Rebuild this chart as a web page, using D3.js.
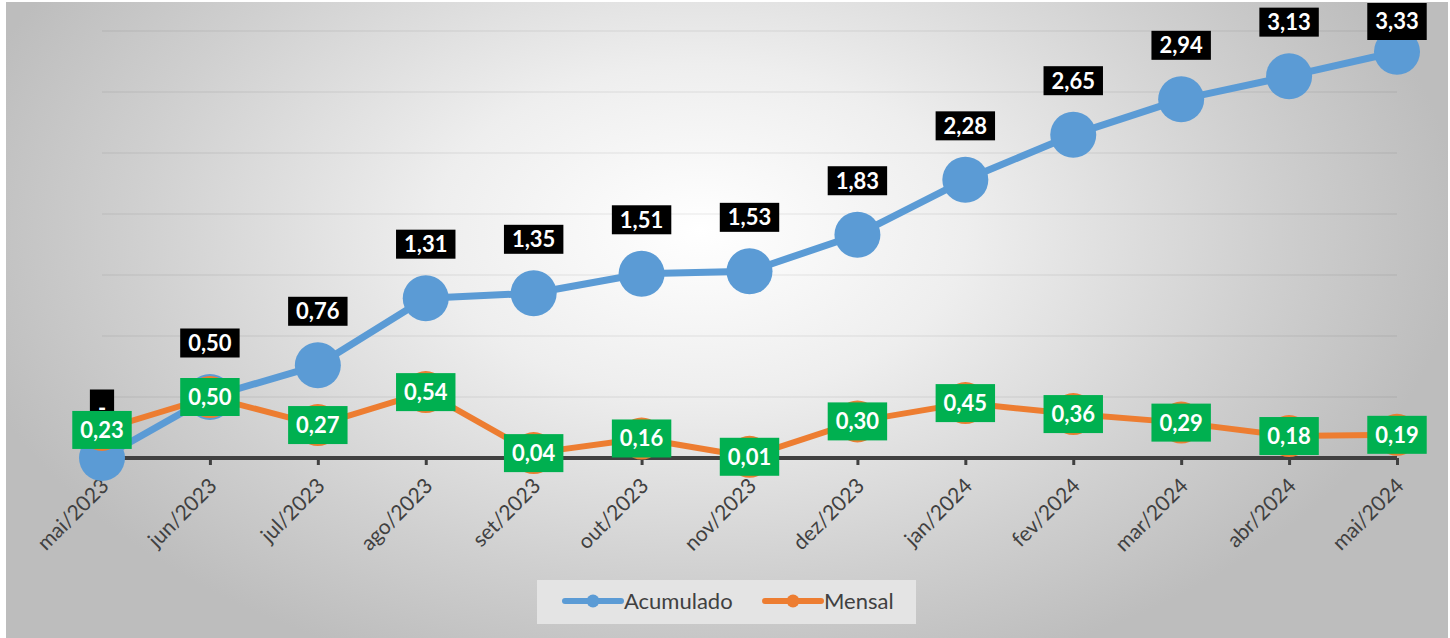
<!DOCTYPE html>
<html><head><meta charset="utf-8">
<script src="https://cdn.jsdelivr.net/npm/d3@7"></script>
<style>html,body{margin:0;padding:0;background:#fff;}svg{display:block;}</style>
</head><body>
<svg id="chart" width="1450" height="638"></svg>
<script>
const categories = ["mai/2023","jun/2023","jul/2023","ago/2023","set/2023","out/2023","nov/2023","dez/2023","jan/2024","fev/2024","mar/2024","abr/2024","mai/2024"];
const acumulado = [0, 0.50, 0.76, 1.31, 1.35, 1.51, 1.53, 1.83, 2.28, 2.65, 2.94, 3.13, 3.33];
const mensal = [0.23, 0.50, 0.27, 0.54, 0.04, 0.16, 0.01, 0.30, 0.45, 0.36, 0.29, 0.18, 0.19];
const gridTicks = [0.5, 1.0, 1.5, 2.0, 2.5, 3.0, 3.5];
const seriesNames = ["Acumulado", "Mensal"];

const svg = d3.select("#chart");
const defs = svg.append("defs");
const grad = defs.append("radialGradient").attr("id","bg")
  .attr("gradientUnits","userSpaceOnUse")
  .attr("cx",700).attr("cy",230).attr("r",760)
  .attr("gradientTransform","translate(700,230) scale(1,0.62) translate(-700,-230)");
[[0,"#ffffff"],[0.35,"#eeeeee"],[0.75,"#cfcfcf"],[1,"#bdbdbd"]].forEach(s=>grad.append("stop").attr("offset",s[0]).attr("stop-color",s[1]));

svg.append("rect").attr("x",6).attr("y",2).attr("width",1442).attr("height",640).attr("fill","url(#bg)");

const x = d3.scalePoint().domain(categories).range([102,1397]);
const y = d3.scaleLinear().domain([0,3.5]).range([458,31]);

// gridlines
svg.append("g").selectAll("line").data(gridTicks).join("line")
  .attr("x1",x(categories[0])).attr("x2",x(categories[categories.length-1]))
  .attr("y1",d=>y(d)).attr("y2",d=>y(d))
  .attr("stroke","rgba(0,0,0,0.045)").attr("stroke-width",2);

// x axis
const axis = d3.axisBottom(x).tickSize(7).tickFormat("");
const ax = svg.append("g").attr("transform",`translate(0,${y(0)})`).call(axis);
ax.select(".domain").attr("d",`M${x(categories[0])},0H${x(categories[categories.length-1])}`).attr("stroke","#404040").attr("stroke-width",4);
ax.selectAll(".tick line").attr("stroke","#404040").attr("stroke-width",3);

svg.append("g").selectAll("text").data(categories).join("text")
  .attr("transform",d=>`translate(${x(d)+3},${y(0)+24}) rotate(-45)`)
  .attr("text-anchor","end").attr("dy","0.35em")
  .attr("font-family","Lato, 'Open Sans', sans-serif").attr("font-size",21).attr("fill","#404040")
  .text(d=>d);

const lineGen = d3.line().x((d,i)=>x(categories[i])).y(d=>y(d));

function drawSeries(vals,color,width,r){
  svg.append("path").datum(vals).attr("d",lineGen).attr("fill","none")
    .attr("stroke",color).attr("stroke-width",width).attr("stroke-linejoin","round").attr("stroke-linecap","round");
  svg.append("g").selectAll("circle").data(vals).join("circle")
    .attr("cx",(d,i)=>x(categories[i])).attr("cy",d=>y(d)).attr("r",r).attr("fill",color);
}
drawSeries(acumulado,"#5b9bd5",7,23);
drawSeries(mensal,"#ed7d31",6,21);

// accounting-style format: zero shown as a dash
const fmt = v => v===0 ? "-" : d3.format(".2f")(v).replace(".",",");

function drawLabels(vals,fill,offset,h){
  const g = svg.append("g");
  vals.forEach((v,i)=>{
    let hh = v===0 ? 37 : h;
    let top = y(v)+offset-h/2;
    if(top<3){ top=3; hh=37; }
    const cy = top+hh/2;
    const lg = g.append("g");
    const t = lg.append("text").attr("x",x(categories[i])).attr("y",cy).attr("dy","0.36em")
      .attr("text-anchor","middle").attr("font-family","Lato, sans-serif").attr("font-weight",700)
      .attr("font-size",22).attr("fill","#ffffff").text(fmt(v));
    const w = Math.max(24, t.node().getComputedTextLength()+16);
    lg.insert("rect","text").attr("x",x(categories[i])-w/2).attr("y",top).attr("width",w).attr("height",hh).attr("fill",fill);
  });
}
drawLabels(acumulado,"#000000",-54,29);
drawLabels(mensal,"#00b050",0,38);

// legend
const lg = svg.append("g");
lg.append("rect").attr("x",537).attr("y",580).attr("width",379).attr("height",44).attr("fill","#e4e4e4");
const legendItems = [{name:seriesNames[0],color:"#5b9bd5",x0:565},{name:seriesNames[1],color:"#ed7d31",x0:765}];
legendItems.forEach(it=>{
  lg.append("line").attr("x1",it.x0).attr("x2",it.x0+56).attr("y1",601).attr("y2",601)
    .attr("stroke",it.color).attr("stroke-width",6).attr("stroke-linecap","round");
  lg.append("circle").attr("cx",it.x0+28).attr("cy",601).attr("r",6.5).attr("fill",it.color);
  lg.append("text").attr("x",it.x0+59).attr("y",601).attr("dy","0.36em")
    .attr("font-family","Lato, sans-serif").attr("font-size",22).attr("fill","#404040").text(it.name);
});
</script>
</body></html>
